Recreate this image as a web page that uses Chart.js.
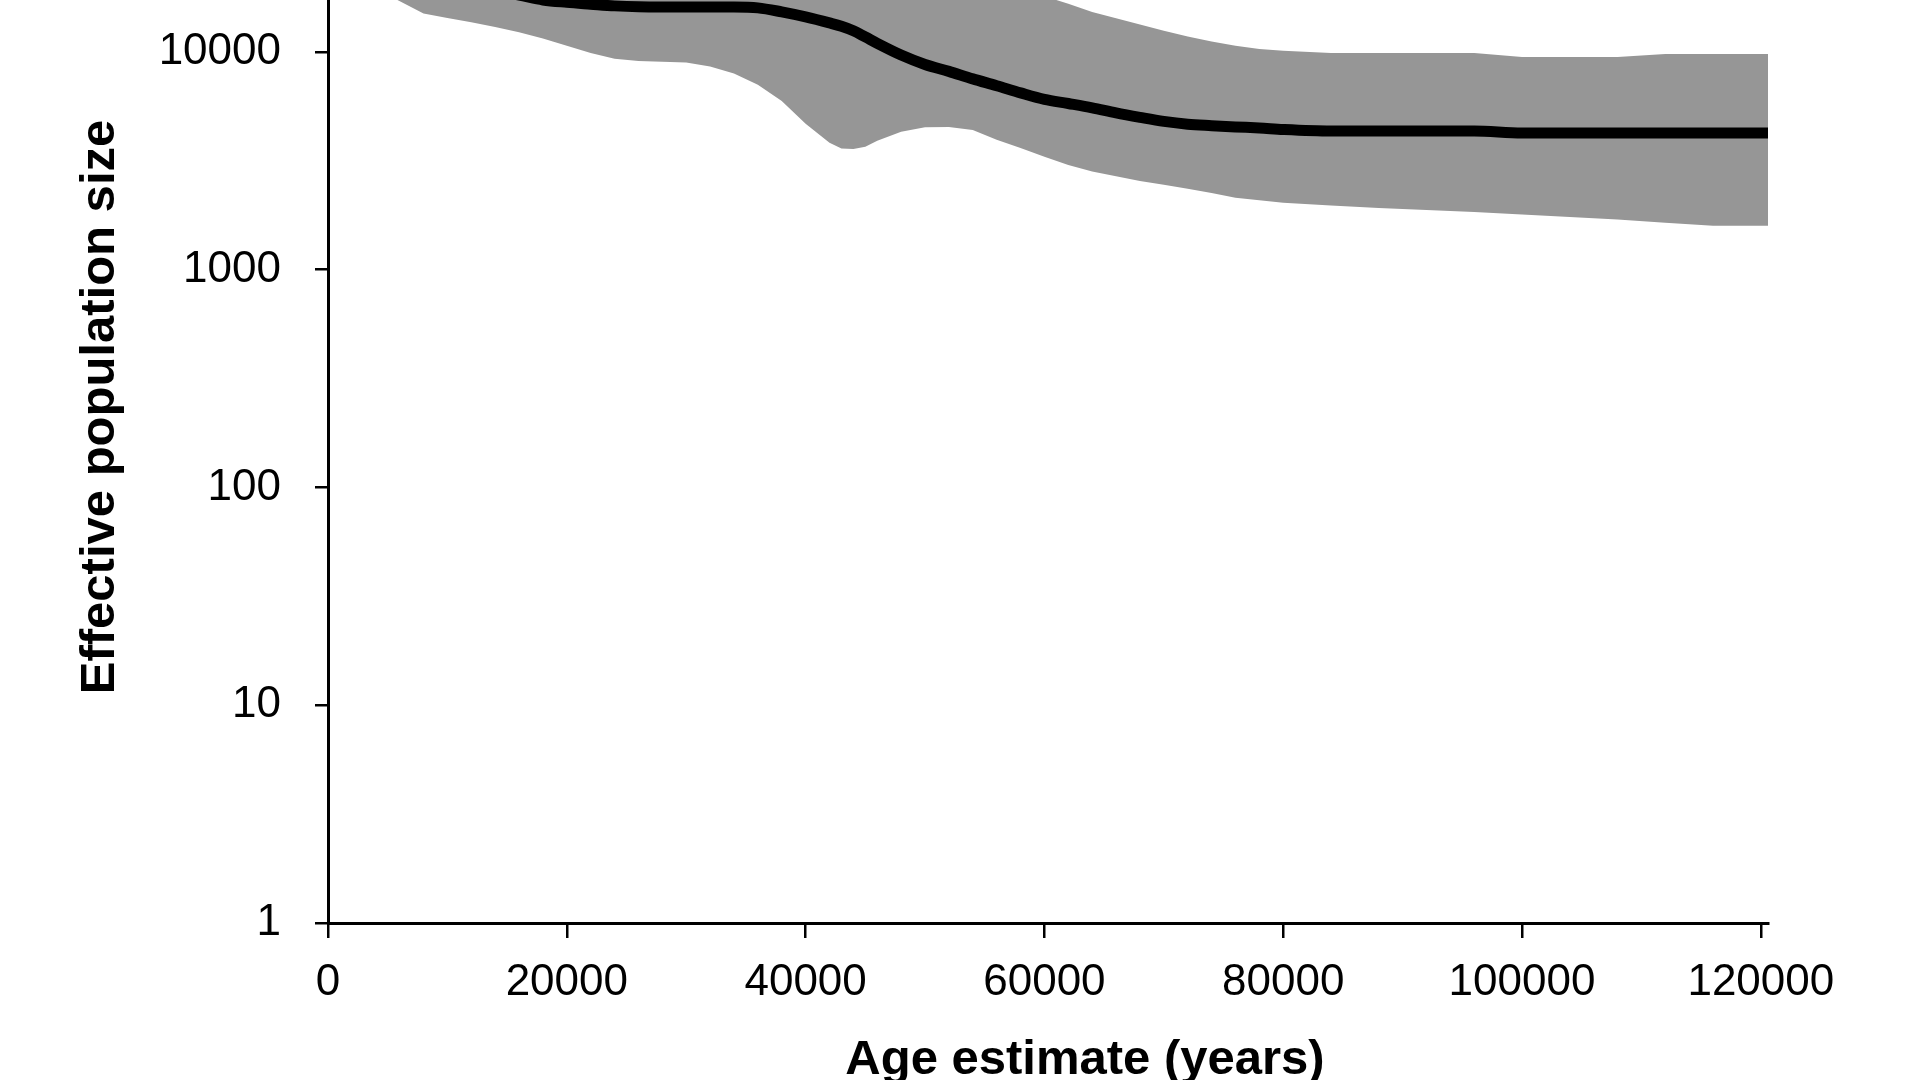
<!DOCTYPE html>
<html>
<head>
<meta charset="utf-8">
<script src="https://cdn.jsdelivr.net/npm/chart.js@4.4.1/dist/chart.umd.min.js"></script>
<style>
  html, body { margin: 0; padding: 0; background: #fff; overflow: hidden; width: 1920px; height: 1080px; }
  /* the top of the figure is cut off in the original, so the canvas starts above the page */
  #wrap { position: absolute; left: 0; top: -227px; width: 1920px; height: 1307px; }
</style>
</head>
<body>
<div id="wrap"><canvas id="myChart" width="1920" height="1307"></canvas></div>
<script>
const ages = [0, 4000, 8000, 10000, 12000, 14000, 16000, 18000, 20000, 22000, 24000, 26000, 28000, 30000,
  32000, 34000, 36000, 38000, 40000, 42000, 43000, 44000, 45000, 46000, 48000, 50000, 52000, 54000, 56000,
  58000, 60000, 62000, 64000, 66000, 68000, 70000, 72000, 74000, 76000, 78000, 80000, 84000, 88000, 92000,
  96000, 100000, 104000, 108000, 112000, 116000, 120600];

const upper = [52000, 50000, 48000, 47000, 46000, 45000, 44000, 43000, 42000, 41000, 40000, 39000, 38000, 37000,
  36000, 35000, 34000, 33000, 31500, 30000, 29000, 28000, 27000, 26000, 24000, 22500, 21300, 20300, 19500,
  18800, 18000, 16600, 15250, 14240, 13360, 12500, 11770, 11160, 10650, 10310, 10100, 9880, 9880, 9880,
  9880, 9475, 9475, 9475, 9780, 9780, 9780];

const mean = [30000, 26000, 22500, 21200, 20000, 19000, 18200, 17300, 16870, 16550, 16250, 16080, 16040, 16040,
  16040, 16040, 15910, 15250, 14460, 13570, 13100, 12490, 11700, 10940, 9670, 8750, 8130, 7510, 6990,
  6480, 6050, 5790, 5530, 5240, 5000, 4790, 4650, 4580, 4520, 4470, 4400, 4330, 4330, 4330,
  4330, 4240, 4240, 4240, 4240, 4240, 4240];

const lower = [26000, 19500, 15000, 14300, 13650, 13000, 12300, 11500, 10650, 9880, 9280, 9080, 8990, 8920,
  8570, 7960, 7050, 5950, 4670, 3820, 3600, 3580, 3660, 3900, 4290, 4500, 4520, 4380, 3950,
  3620, 3300, 3020, 2820, 2680, 2550, 2450, 2350, 2250, 2140, 2080, 2030, 1970, 1920, 1880,
  1840, 1790, 1745, 1700, 1640, 1590, 1590];

const xTicks = [0, 20000, 40000, 60000, 80000, 100000, 120000];
const yTicks = [1, 10, 100, 1000, 10000, 100000];
const xTitle = 'Age estimate (years)';
const yTitle = 'Effective population size';

const fontFamily = '"Liberation Sans", Arial, sans-serif';
const pts = arr => arr.map((v, i) => ({ x: ages[i], y: v }));

// axis titles sit off-centre in the original, so draw them by hand
const axisTitles = {
  id: 'axisTitles',
  afterDraw(chart) {
    const { ctx, chartArea } = chart;
    ctx.save();
    ctx.fillStyle = '#000';
    ctx.font = 'bold 49px ' + fontFamily;
    ctx.textAlign = 'center';
    ctx.textBaseline = 'alphabetic';
    ctx.fillText(xTitle, chartArea.left + 757, chartArea.bottom + 151);
    ctx.translate(chartArea.left - 214, chartArea.bottom - 516);
    ctx.rotate(-Math.PI / 2);
    ctx.fillText(yTitle, 0, 0);
    ctx.restore();
  }
};

var ctx = document.getElementById('myChart');

var myChart = new Chart(ctx, {
  type: 'line',
  data: {
    datasets: [
      {
        label: 'Mean',
        data: pts(mean),
        borderColor: '#000',
        borderWidth: 11,
        pointRadius: 0,
        fill: false,
        cubicInterpolationMode: 'monotone',
        order: 0
      },
      {
        label: 'Upper',
        data: pts(upper),
        borderColor: 'transparent',
        borderWidth: 0,
        backgroundColor: '#969696',
        pointRadius: 0,
        fill: '+1',
        order: 1
      },
      {
        label: 'Lower',
        data: pts(lower),
        borderColor: 'transparent',
        borderWidth: 0,
        pointRadius: 0,
        fill: false,
        order: 1
      }
    ]
  },
  options: {
    responsive: false,
    animation: false,
    devicePixelRatio: 1,
    layout: { padding: { left: 0, top: 61, right: 152, bottom: 0 } },
    plugins: {
      legend: { display: false },
      tooltip: { enabled: false }
    },
    scales: {
      x: {
        type: 'linear',
        min: 0,
        max: 120600,
        afterBuildTicks: s => { s.ticks = xTicks.map(v => ({ value: v })); },
        afterFit: s => { s.height = 157; },
        grid: { drawOnChartArea: false, drawTicks: true, tickLength: 15, color: '#000', lineWidth: 2.5 },
        border: { display: true, color: '#000', width: 3 },
        ticks: {
          color: '#000',
          font: { family: fontFamily, size: 44 },
          padding: 18,
          maxRotation: 0,
          autoSkip: false,
          callback: v => String(v)
        }
      },
      y: {
        type: 'logarithmic',
        min: 1,
        max: 100000,
        afterBuildTicks: s => { s.ticks = yTicks.map(v => ({ value: v })); },
        afterFit: s => { s.width = 328; },
        grid: { drawOnChartArea: false, drawTicks: true, tickLength: 13, color: '#000', lineWidth: 2.5 },
        border: { display: true, color: '#000', width: 3 },
        ticks: {
          color: '#000',
          font: { family: fontFamily, size: 44 },
          padding: 34,
          autoSkip: false,
          callback: v => String(v)
        }
      }
    }
  },
  plugins: [axisTitles]
});
</script>
</body>
</html>
